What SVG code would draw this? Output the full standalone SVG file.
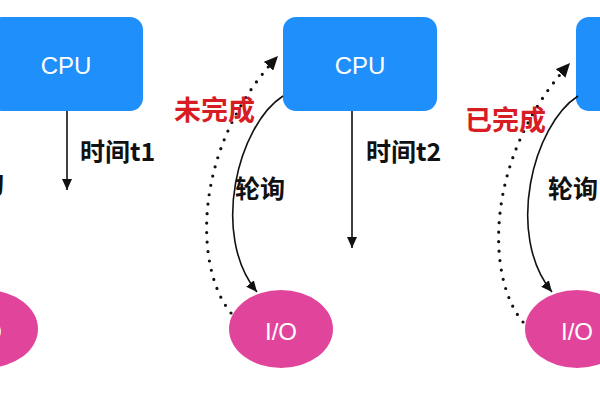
<svg xmlns="http://www.w3.org/2000/svg" width="600" height="400" viewBox="0 0 600 400">
<style>
.cpu{fill:#1E8FFB}
.io{fill:#E1459B}
.nt{font-family:"Liberation Sans",Arial,sans-serif;font-size:24px;fill:#fff;text-anchor:middle}
.lb{font-family:"Noto Sans CJK SC","Liberation Sans",sans-serif;font-size:25px;font-weight:bold;fill:#111}
.st{font-family:"Noto Sans CJK SC","Liberation Sans",sans-serif;font-size:27px;font-weight:bold;fill:#D81C24}
.ln{fill:none;stroke:#111;stroke-width:1.6}
.dt{fill:none;stroke:#111;stroke-width:3.2;stroke-linecap:round;stroke-dasharray:0 9.5}
</style>
<defs>
<marker id="ah" markerUnits="userSpaceOnUse" markerWidth="12" markerHeight="10" refX="11" refY="5" orient="auto">
<path d="M0,0 L11,5 L0,10 Z" fill="#111"/>
</marker>
<marker id="ahd" markerUnits="userSpaceOnUse" markerWidth="15" markerHeight="13" refX="14" refY="6.5" orient="auto">
<path d="M0,0 L14,6.5 L0,13 Z" fill="#111"/>
</marker>
</defs>
<rect width="600" height="400" fill="#fff"/>
<g id="cpu1"><rect class="cpu" x="-11" y="17" width="154" height="94" rx="13"/><text class="nt" x="66" y="74">CPU</text></g>
<g id="cpu2"><rect class="cpu" x="283" y="17" width="154" height="94" rx="13"/><text class="nt" x="360" y="74">CPU</text></g>
<g id="cpu3"><rect class="cpu" x="576" y="17" width="154" height="94" rx="13"/></g>
<g id="io1"><ellipse class="io" cx="-14" cy="329" rx="52" ry="39"/><text class="nt" x="-14" y="340">I/O</text></g>
<g id="io2"><ellipse class="io" cx="281" cy="329" rx="52" ry="39"/><text class="nt" x="281" y="340">I/O</text></g>
<g id="io3"><ellipse class="io" cx="577" cy="329" rx="52" ry="39"/><text class="nt" x="577" y="340">I/O</text></g>
<g id="connectors">
<line class="ln" x1="67" y1="111" x2="67" y2="190" marker-end="url(#ah)"/>
<line class="ln" x1="352" y1="111" x2="352" y2="248" marker-end="url(#ah)"/>
<path class="ln" d="M283,96 C238,125 210,235 257,292" marker-end="url(#ah)"/>
<path class="ln" d="M578,96 C533,125 505,235 552,292" marker-end="url(#ah)"/>
<path class="dt" d="M231,313 C195,270 190,150 278,56" marker-end="url(#ahd)"/>
<path class="dt" d="M523,322 C487,280 482,160 570,63" marker-end="url(#ahd)"/>
</g>
<g id="labels">
<text class="lb" x="80" y="161">时间t1</text>
<text class="lb" x="366" y="161">时间t2</text>
<text class="lb" x="4" y="193" text-anchor="end">轮询</text>
<text class="lb" x="235" y="198">轮询</text>
<text class="lb" x="548" y="198">轮询</text>
<text class="st" x="174" y="120">未完成</text>
<text class="st" x="465" y="130">已完成</text>
</g>
</svg>
